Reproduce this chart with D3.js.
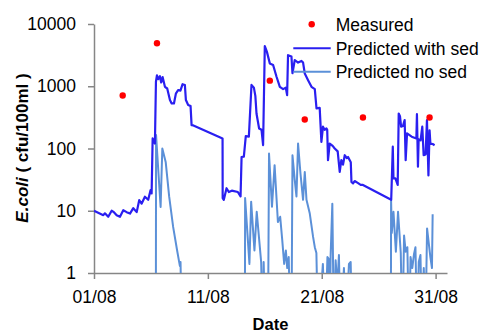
<!DOCTYPE html>
<html>
<head>
<meta charset="utf-8">
<script src="https://cdn.jsdelivr.net/npm/d3@7"></script>
<style>
  html, body { margin: 0; padding: 0; background: #fff; }
  svg { display: block; }
  text { font-family: "Liberation Sans", Arial, sans-serif; }
</style>
</head>
<body>
<svg id="chart" width="483" height="334"></svg>
<script>
// ---- Data (day of August, E.coli cfu/100ml) ----
// values of 0.1 stand for "zero" (below the log axis, clipped)
const withSedDay = [1.0,1.82,1.96,2.25,2.55,2.75,2.99,3.28,3.57,3.87,4.16,4.45,4.75,4.97,5.18,5.47,5.76,5.97,6.06,6.15,6.26,6.35,6.44,6.53,6.64,6.79,6.90,7.03,7.23,7.43,7.67,7.82,8.02,8.19,8.39,8.59,8.78,8.98,9.07,9.27,9.48,9.57,9.73,12.29,12.30,12.40,12.64,12.84,13.10,13.63,13.87,13.96,14.16,14.33,14.60,14.83,15.04,15.17,15.27,15.50,15.71,15.85,16.00,16.18,16.44,16.73,17.03,17.32,17.61,17.84,17.96,18.04,18.34,18.43,18.63,18.92,19.22,19.36,19.51,19.80,20.10,20.39,20.54,20.82,20.97,21.11,21.26,21.41,21.48,21.55,21.70,21.96,22.14,22.40,22.58,22.72,22.87,23.02,23.20,23.31,23.55,23.61,23.75,23.89,24.16,24.42,24.62,27.10,27.24,27.30,27.47,27.67,27.76,27.87,27.97,28.13,28.28,28.37,28.49,28.90,29.31,29.36,29.45,29.51,29.68,29.83,29.95,30.12,30.24,30.37,30.47,30.54,30.74,30.91];
const withSedVal = [10,8.5,9.1,8,10,9.5,8.5,8,10.2,9.5,9,11,9.5,14.8,13,16.8,15,21.5,19,145,130,120,1180,1500,1300,1450,1150,1400,980,920,600,530,530,760,870,850,1080,1050,600,500,480,237,235,145,16,15,23,20,21,20,17,73,74,158,155,1050,950,700,365,210,200,113,4400,3600,2330,2200,1420,980,900,950,720,3160,3000,1620,2640,2400,2550,2400,1600,1250,980,900,440,450,128,224,200,210,200,65,120,110,100,90,42,65,55,78,70,73,60,29,27.5,30,28,26,26,15,107,33,33,26,365,330,224,230,286,65,175,155,145,356,51,140,135,224,78,80,286,37,196,120,118,113];

const noSedDay = [1.0,6.43,6.45,6.85,7.0,7.3,7.6,7.95,8.3,8.54,8.6,8.7,14.25,14.27,14.65,14.8,15.09,15.29,15.68,15.82,15.9,16.05,16.28,16.37,16.63,16.86,17.15,17.35,17.53,17.7,17.85,17.97,18.1,18.25,18.34,18.43,18.63,18.78,18.92,19.13,19.36,19.51,19.66,19.95,20.24,20.39,20.53,20.68,21.1,21.3,21.5,21.6,21.7,21.78,21.93,22.07,22.22,22.37,22.51,22.66,22.95,23.1,23.39,23.54,23.68,27.07,27.09,27.15,27.3,27.51,27.7,27.94,28.08,28.23,28.37,28.52,28.66,28.8,28.95,29.1,29.23,29.38,29.52,29.67,29.81,29.96,30.1,30.25,30.4,30.54,30.68,30.74];
const noSedVal = [0.1,0.1,165,11.5,100,60,17,5.5,2.3,1.3,1.5,0.1,0.1,16,1.4,14,2.3,9.6,1.5,0.1,1.5,0.1,0.1,83,11.6,54,6.6,8,3.4,1.4,2.3,1.2,1.8,0.1,0.1,78,31,17,120,40,15,42,15,9,3.8,2.6,2.1,0.1,1.4,0.1,1.8,1.7,0.1,1.9,13,0.1,1.6,0.6,1.95,0.1,1.2,0.1,1.4,1.5,0.1,0.1,15,4.4,9.6,2.2,9.6,2.1,0.1,4,2.2,2.6,0.1,1.8,1.2,2.0,2.6,0.1,1.5,1.95,0.1,1.2,0.1,5.2,3.0,1.8,1.2,8.8];

const measuredDay = [3.52,6.53,16.44,19.51,24.62,30.47];
const measuredVal = [710,4900,1230,293,315,315];

const xTickDays = [1,11,21,31];
const xTickLabels = ["01/08","11/08","21/08","31/08"];
const yTickValues = [1,10,100,1000,10000];
const yTickLabels = ["1","10","100","1000","10000"];
const seriesNames = ["Measured","Predicted with sed","Predicted no sed"];

// ---- Layout ----
const svg = d3.select("#chart");
const L = 94, R = 447, T = 24, B = 273;
const x = d3.scaleLinear().domain([1,32]).range([L,R]);
const y = d3.scaleLog().domain([1,10000]).range([B,T]);
const axisColor = "#868686";
const darkBlue = "#2a1ff0", lightBlue = "#5b90d8", red = "#ff0000";

svg.append("defs").append("clipPath").attr("id","clip")
  .append("rect").attr("x",L).attr("y",0).attr("width",R-L+2).attr("height",B);

// axes
const yAxis = svg.append("g").attr("transform",`translate(${L},0)`)
  .call(d3.axisLeft(y).tickValues(yTickValues)
    .tickFormat((d,i)=>yTickLabels[i]).tickSize(6).tickSizeOuter(0).tickPadding(12));
const xAxis = svg.append("g").attr("transform",`translate(0,${B})`)
  .call(d3.axisBottom(x).tickValues(xTickDays)
    .tickFormat((d,i)=>xTickLabels[i]).tickSize(6).tickSizeOuter(0).tickPadding(12));
[yAxis,xAxis].forEach(g=>{
  g.select(".domain").attr("stroke",axisColor).attr("stroke-width",1.5);
  g.selectAll(".tick line").attr("stroke",axisColor).attr("stroke-width",1.5);
  g.selectAll(".tick text").attr("fill","#000")
    .style("font-family","'Liberation Sans', Arial, sans-serif").style("font-size","17.5px");
});

// lines
const plot = svg.append("g").attr("clip-path","url(#clip)");
const line = d3.line().x(d=>x(d[0])).y(d=>y(d[1]));
const noSed = noSedDay.map((d,i)=>[d,noSedVal[i]]);
const withSed = withSedDay.map((d,i)=>[d,withSedVal[i]]);
plot.append("path").datum(noSed).attr("d",line)
  .attr("fill","none").attr("stroke",lightBlue).attr("stroke-width",2).attr("stroke-linejoin","round");
plot.append("path").datum(withSed).attr("d",line)
  .attr("fill","none").attr("stroke",darkBlue).attr("stroke-width",2.2).attr("stroke-linejoin","round");

// measured points
svg.append("g").selectAll("circle").data(measuredDay).join("circle")
  .attr("cx",d=>x(d)).attr("cy",(d,i)=>y(measuredVal[i])).attr("r",3.2).attr("fill",red);

// legend
const lg = svg.append("g").style("font-size","17.5px");
const rowY = [24.3, 48.3, 71.7];
lg.append("circle").attr("cx",311.7).attr("cy",rowY[0]).attr("r",3.2).attr("fill",red);
lg.append("line").attr("x1",293.3).attr("x2",330.7).attr("y1",rowY[1]).attr("y2",rowY[1])
  .attr("stroke",darkBlue).attr("stroke-width",2);
lg.append("line").attr("x1",293.3).attr("x2",330.7).attr("y1",rowY[2]).attr("y2",rowY[2])
  .attr("stroke",lightBlue).attr("stroke-width",2);
seriesNames.forEach((n,i)=>{
  lg.append("text").attr("x",335.7).attr("y",rowY[i]).attr("dy","0.36em").attr("fill","#000").text(n);
});

// axis titles
const yt = svg.append("text").attr("transform","translate(28,148) rotate(-90)")
  .attr("text-anchor","middle").style("font-size","17px").style("font-weight","bold").attr("fill","#000");
yt.append("tspan").style("font-style","italic").text("E.coli");
yt.append("tspan").text(" ( cfu/100ml )");
svg.append("text").attr("x",(L+R)/2).attr("y",329.5).attr("text-anchor","middle")
  .style("font-size","16.5px").style("font-weight","bold").attr("fill","#000").text("Date");
</script>
</body>
</html>
